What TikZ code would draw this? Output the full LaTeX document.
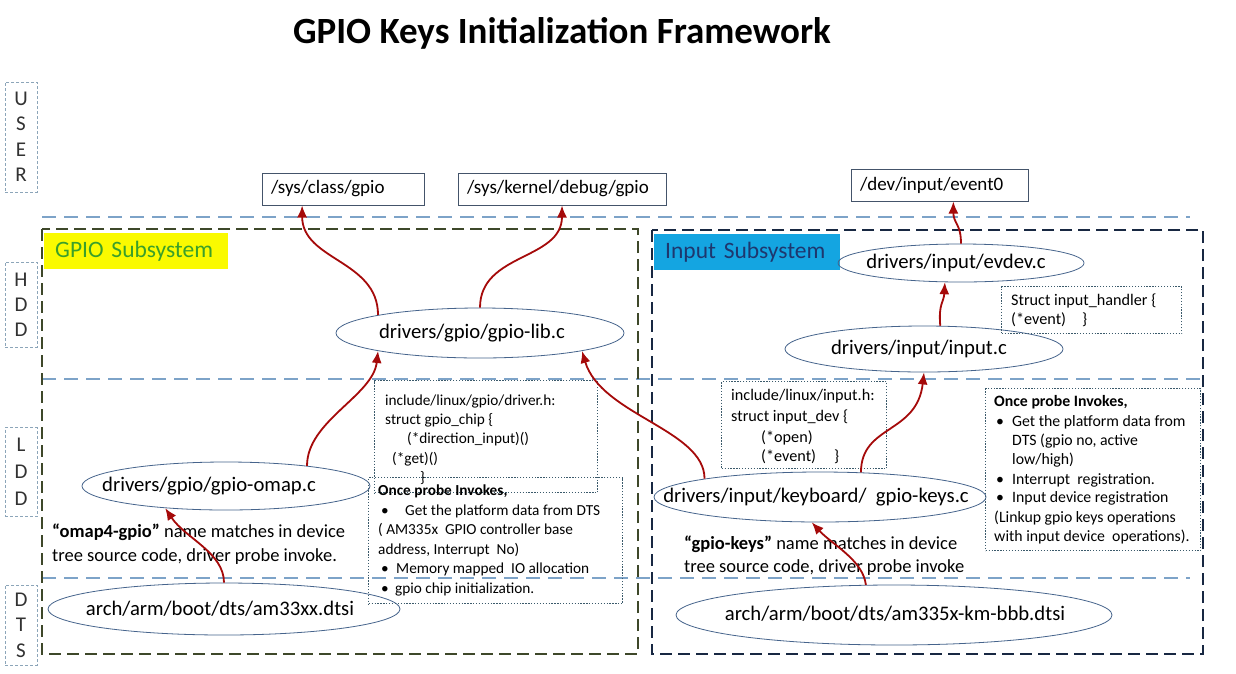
\documentclass[tikz,border=0pt]{standalone}
\usepackage{fontspec}
\setmainfont{Carlito}
\usetikzlibrary{arrows.meta,shapes.geometric,calc}
\definecolor{ellc}{RGB}{70,100,140}
\definecolor{boxc}{RGB}{68,84,106}
\definecolor{dotc}{RGB}{59,90,107}
\definecolor{arrc}{RGB}{165,10,10}
\definecolor{laylinec}{RGB}{125,163,200}
\definecolor{gpioframec}{RGB}{62,72,42}
\definecolor{inputframec}{RGB}{24,40,66}
\definecolor{laybc}{RGB}{140,165,185}
\definecolor{yel}{RGB}{250,250,0}
\definecolor{gpiogreen}{RGB}{58,160,42}
\definecolor{inputfill}{RGB}{20,165,225}
\definecolor{inputtext}{RGB}{30,55,110}
\definecolor{laytext}{RGB}{50,50,50}
\begin{document}
\begin{tikzpicture}[x=1pt,y=-1pt,
  ell/.style={draw=ellc, line width=0.8pt, ellipse, inner sep=0pt},
  etext/.style={font=\fontsize{20.7}{24}\selectfont, inner sep=0pt},
  pathbox/.style={draw=boxc, line width=1pt, rectangle, inner xsep=9pt, inner ysep=0pt, minimum height=32pt, align=left, font=\fontsize{19}{22}\selectfont},
  dotbox/.style={draw=dotc, line width=1.4pt, dash pattern=on 1.3pt off 1.6pt, rectangle, inner sep=0pt},
  layerbox/.style={draw=laybc, line width=0.7pt, dash pattern=on 3pt off 2pt, minimum width=32pt, inner sep=0pt, align=center, text=laytext},
  layerline/.style={draw=laylinec, line width=2.2pt, dash pattern=on 14pt off 8pt},
  frameg/.style={draw=gpioframec, line width=2pt, dash pattern=on 12pt off 6pt},
  framei/.style={draw=inputframec, line width=2pt, dash pattern=on 12pt off 6pt},
  arr/.style={draw=arrc, line width=1.8pt, -{Latex[length=12pt,width=10pt]}},
  tl/.style={font=\fontsize{15.3}{18}\selectfont, anchor=base west, inner sep=0pt},
  tr/.style={font=\fontsize{15.8}{18}\selectfont, anchor=base west, inner sep=0pt},
  ts/.style={font=\fontsize{16.2}{18}\selectfont, anchor=base west, inner sep=0pt},
  tm/.style={font=\fontsize{18.5}{22}\selectfont, anchor=base west, inner sep=0pt}
]
\useasboundingbox (0,0) rectangle (1236,673);
\fill[white] (0,0) rectangle (1236,673);

% title
\node[font=\bfseries\fontsize{37}{44}\selectfont] (title) at (562,33) {GPIO Keys Initialization Framework};

% layer labels
\node[layerbox, minimum height=110pt, font=\fontsize{21}{25.5}\selectfont] (luser) at (21,137) {U\\S\\E\\R};
\node[layerbox, minimum height=85pt, font=\fontsize{21}{25}\selectfont] (lhdd) at (21,304.5) {H\\D\\D};
\node[layerbox, minimum height=89pt, font=\fontsize{21}{27}\selectfont] (lldd) at (21,472) {L\\D\\D};
\node[layerbox, minimum height=80pt, font=\fontsize{21}{25.5}\selectfont] (ldts) at (21,625) {D\\T\\S};

% layer separators
\coordinate (l1a) at (42,217); \coordinate (l1b) at (1190,217);
\coordinate (l2a) at (42,379); \coordinate (l2b) at (1200,379);
\coordinate (l3a) at (42,578); \coordinate (l3b) at (1190,578);
\draw[layerline] (l1a) -- (l1b);
\draw[layerline] (l2a) -- (l2b);
\draw[layerline] (l3a) -- (l3b);

% subsystem frames
\draw[frameg] (42,229) rectangle (638,654);
\draw[framei] (652,230) rectangle (1203,654);

\node[fill=yel, anchor=north west, minimum width=184pt, minimum height=36pt, inner xsep=11pt, text width=162pt, align=left, text=gpiogreen, font=\fontsize{23.5}{26}\selectfont] (gpiolab) at (44,233) {GPIO Subsystem};
\node[fill=inputfill, anchor=north west, minimum width=186pt, minimum height=36pt, inner xsep=11pt, text width=164pt, align=left, text=inputtext, font=\fontsize{23.5}{26}\selectfont] (inputlab) at (654,234) {Input Subsystem};

% top path boxes
\node[pathbox, text width=144pt] (sysclass) at (343,189) {/sys/class/gpio};
\node[pathbox, text width=190pt] (sysdebug) at (562,189) {/sys/kernel/debug/gpio};
\node[pathbox, text width=159pt] (event0) at (939.5,185) {/dev/input/event0};

% ellipses
\node[ell, minimum width=288pt, minimum height=50pt] (gpiolib) at (480,333) {};
\node[ell, minimum width=288pt, minimum height=48pt] (omap) at (226,486) {};
\node[ell, minimum width=352pt, minimum height=52pt] (dtsA) at (224,609) {};
\node[ell, minimum width=246pt, minimum height=38pt] (evdev) at (961,263) {};
\node[ell, minimum width=278pt, minimum height=46pt] (inputc) at (924,349) {};
\node[ell, minimum width=332pt, minimum height=50pt] (gkeys) at (820,497) {};
\node[ell, minimum width=436pt, minimum height=60pt] (dtsB) at (894,615) {};

\node[etext] (tgpiolib) at (472,333) {drivers/gpio/gpio-lib.c};
\node[etext] (tomap) at (209,486) {drivers/gpio/gpio-omap.c};
\node[etext] (tdtsA) at (220,609) {arch/arm/boot/dts/am33xx.dtsi};
\node[etext] (tevdev) at (956,263) {drivers/input/evdev.c};
\node[etext] (tinputc) at (919,349) {drivers/input/input.c};
\node[etext] (tgkeys) at (816,497) {drivers/input/keyboard/\ \ gpio-keys.c};
\node[etext] (tdtsB) at (895,614) {arch/arm/boot/dts/am335x-km-bbb.dtsi};

% dotted info boxes
\node[dotbox, anchor=north west, minimum width=223pt, minimum height=112pt] (drvh) at (374,380) {};
\node[dotbox, anchor=north west, minimum width=254pt, minimum height=126pt] (onceL) at (368,477) {};
\node[dotbox, anchor=north west, minimum width=215pt, minimum height=162pt] (onceR) at (985,388) {};
\node[dotbox, anchor=north west, minimum width=165pt, minimum height=87pt] (inh) at (721,381) {};
\node[dotbox, anchor=north west, minimum width=180pt, minimum height=47pt] (hdl) at (1001,286) {};

% driver.h text
\node[tl] (dh1) at (385,405) {include/linux/gpio/driver.h:};
\node[tl] (dh2) at (385,424) {struct gpio\_chip \{};
\node[tl] (dh3) at (407,443) {(*direction\_input)()};
\node[tl] (dh4) at (392,463) {(*get)()};
\node[tl] (dh5) at (420,482) {\}};

% left once text
\node[tl] (ol1) at (378,495) {\textbf{Once probe Invokes,}};
\node[tl] (ol2b) at (381,515) {•};
\node[tl] (ol2) at (405,515) {Get the platform data from DTS};
\node[tl] (ol3) at (378,534) {( AM335x\ \ GPIO controller base};
\node[tl] (ol4) at (378,554) {address, Interrupt\ \ No)};
\node[tl] (ol5b) at (381,573) {•};
\node[tl] (ol5) at (396,573) {Memory mapped\ \ IO allocation};
\node[tl] (ol6b) at (381,593) {•};
\node[tl] (ol6) at (395,593) {gpio chip initialization.};

% right once text
\node[tr] (or1) at (994,406) {\textbf{Once probe Invokes,}};
\node[tr] (or2b) at (996,426) {•};
\node[tr] (or2) at (1012,426) {Get the platform data from};
\node[tr] (or3) at (1012,445) {DTS (gpio no, active};
\node[tr] (or4) at (1012,464) {low/high)};
\node[tr] (or5b) at (996,484) {•};
\node[tr] (or5) at (1012,484) {Interrupt\ \ registration.};
\node[tr] (or6b) at (996,502) {•};
\node[tr] (or6) at (1012,502) {Input device registration};
\node[tr] (or7) at (994,522) {(Linkup gpio keys operations};
\node[tr] (or8) at (994,541) {with input device\ \ operations).};

% input.h text
\node[ts] (ih1) at (731,400) {include/linux/input.h:};
\node[ts] (ih2) at (731,421) {struct input\_dev \{};
\node[ts] (ih3) at (761,442) {(*open)};
\node[ts] (ih4) at (761,461) {(*event)};
\node[ts] (ih5) at (834,461) {\}};

% handler text
\node[ts] (hd1) at (1011,305) {Struct input\_handler \{};
\node[ts] (hd2) at (1011,324) {(*event)};
\node[ts] (hd3) at (1082,324) {\}};

% name match texts
\node[tm] (nm1) at (52,537) {\textbf{“omap4-gpio”} name matches in device};
\node[tm] (nm2) at (52,561) {tree source code, driver probe invoke.};
\node[tm] (nk1) at (684,549) {\textbf{“gpio-keys”} name matches in device};
\node[tm] (nk2) at (684,572) {tree source code, driver probe invoke};

% connectors
\draw[arr] (dtsA.north) .. controls +(0,-30) and +(20,30) .. (omap.200);
\draw[arr] (omap.14) .. controls +(0,-45) and +(-5,45) .. (gpiolib.190);
\draw[arr] (gpiolib.170) .. controls +(0,-55) and +(0,55) .. (sysclass.202);
\draw[arr] (gpiolib.north) .. controls +(0,-55) and +(0,55) .. (sysdebug.south);
\draw[arr] (gkeys.171) .. controls +(0,-49) and +(19,64) .. (gpiolib.350);
\draw[arr] (gkeys.31) .. controls +(0,-48) and +(-7,62) .. (inputc.south);
\draw[arr] (dtsB.133) .. controls +(-3,-25) and +(20,22) .. (gkeys.252);
\draw[arr] (inputc.55) .. controls +(-2,-22) and +(-1,20) .. (evdev.230);
\draw[arr] (evdev.north) .. controls +(0,-20) and +(0,22) .. (event0.310);
\end{tikzpicture}
\end{document}
